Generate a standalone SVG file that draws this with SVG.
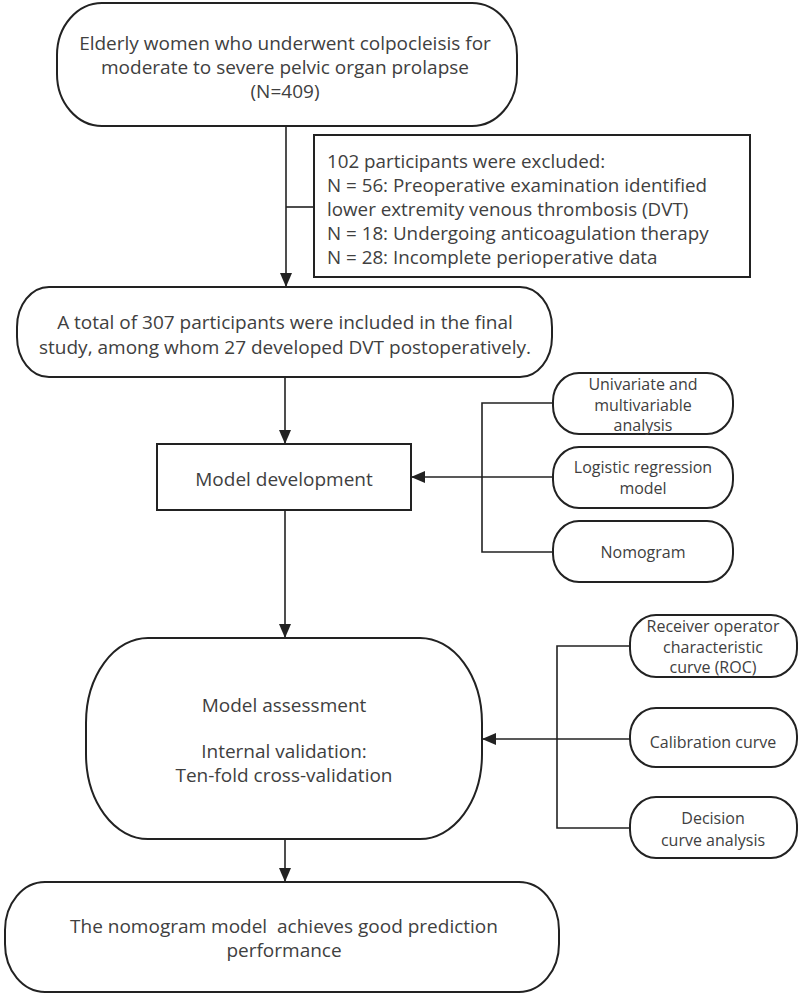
<svg xmlns="http://www.w3.org/2000/svg" width="800" height="998" viewBox="0 0 800 998">
<defs>
<marker id="arr" markerUnits="userSpaceOnUse" markerWidth="14" markerHeight="12" viewBox="0 0 14 12" refX="14" refY="6" orient="auto">
<path d="M0,0 L14,6 L0,12 z" fill="#222"/>
</marker>
<style>
.box{fill:#fff;stroke:#222;stroke-width:2}
.ln{fill:none;stroke:#222;stroke-width:1.6}
text{font-family:"Open Sans","Noto Sans",sans-serif;fill:#404040}
.t{font-size:19px;text-anchor:middle}
.tl{font-size:18.8px}
.s{font-size:16px;text-anchor:middle}
.m{font-size:19px;text-anchor:middle}
</style>
</defs>
<rect width="800" height="998" fill="#fff"/>
<g id="connectors">
<line class="ln" x1="286" y1="126" x2="286" y2="287" marker-end="url(#arr)"/>
<line class="ln" x1="286" y1="207" x2="314" y2="207"/>
<line class="ln" x1="285" y1="377" x2="285" y2="444" marker-end="url(#arr)"/>
<line class="ln" x1="285" y1="510" x2="285" y2="638" marker-end="url(#arr)"/>
<line class="ln" x1="285" y1="839" x2="285" y2="882" marker-end="url(#arr)"/>
<polyline class="ln" points="553,403 482,403 482,552 553,552"/>
<line class="ln" x1="553" y1="477" x2="411" y2="477" marker-end="url(#arr)"/>
<polyline class="ln" points="630,646 557,646 557,828 630,828"/>
<line class="ln" x1="630" y1="739" x2="482" y2="739" marker-end="url(#arr)"/>
</g>
<g id="start">
<rect class="box" x="57" y="3" width="460" height="123" rx="45" ry="52"/>
<text class="t" x="285" y="50">Elderly women who underwent colpocleisis for</text>
<text class="t" x="285" y="74">moderate to severe pelvic organ prolapse</text>
<text class="t" x="285" y="98">(N=409)</text>
</g>
<g id="excluded">
<rect class="box" x="314" y="135" width="436" height="142"/>
<text class="tl" x="327" y="168">102 participants were excluded:</text>
<text class="tl" x="327" y="192">N = 56: Preoperative examination identified</text>
<text class="tl" x="327" y="216">lower extremity venous thrombosis (DVT)</text>
<text class="tl" x="327" y="240">N = 18: Undergoing anticoagulation therapy</text>
<text class="tl" x="327" y="264">N = 28: Incomplete perioperative data</text>
</g>
<g id="included">
<rect class="box" x="17" y="287" width="535" height="90" rx="32" ry="40"/>
<text class="t" x="285" y="329">A total of 307 participants were included in the final</text>
<text class="t" x="285" y="354">study, among whom 27 developed DVT postoperatively.</text>
</g>
<g id="development">
<rect class="box" x="157" y="444" width="254" height="66"/>
<text class="t" x="284" y="486">Model development</text>
</g>
<g id="univariate">
<rect class="box" x="553" y="373" width="180" height="61" rx="26" ry="28"/>
<text class="s" x="643" y="390">Univariate and</text>
<text class="s" x="643" y="410.5">multivariable</text>
<text class="s" x="643" y="431">analysis</text>
</g>
<g id="logistic">
<rect class="box" x="553" y="447" width="180" height="61" rx="26" ry="28"/>
<text class="s" x="643" y="473">Logistic regression</text>
<text class="s" x="643" y="494">model</text>
</g>
<g id="nomogram">
<rect class="box" x="553" y="521" width="180" height="61" rx="26" ry="28"/>
<text class="s" x="643" y="558">Nomogram</text>
</g>
<g id="assessment">
<rect class="box" x="86" y="638" width="396" height="201" rx="62" ry="85"/>
<text class="m" x="284" y="712">Model assessment</text>
<text class="m" x="284" y="758">Internal validation:</text>
<text class="m" x="284" y="782">Ten-fold cross-validation</text>
</g>
<g id="roc">
<rect class="box" x="630" y="615" width="167" height="62" rx="26" ry="28"/>
<text class="s" x="713" y="632">Receiver operator</text>
<text class="s" x="713" y="652.5">characteristic</text>
<text class="s" x="713" y="673">curve (ROC)</text>
</g>
<g id="calibration">
<rect class="box" x="630" y="708" width="167" height="59" rx="26" ry="28"/>
<text class="s" x="713" y="748">Calibration curve</text>
</g>
<g id="decision">
<rect class="box" x="630" y="797" width="167" height="61" rx="26" ry="28"/>
<text class="s" x="713" y="824">Decision</text>
<text class="s" x="713" y="846">curve analysis</text>
</g>
<g id="result">
<rect class="box" x="5" y="882" width="554" height="110" rx="40" ry="48"/>
<text class="t" x="284" y="933" xml:space="preserve">The nomogram model  achieves good prediction</text>
<text class="t" x="284" y="957">performance</text>
</g>
</svg>
